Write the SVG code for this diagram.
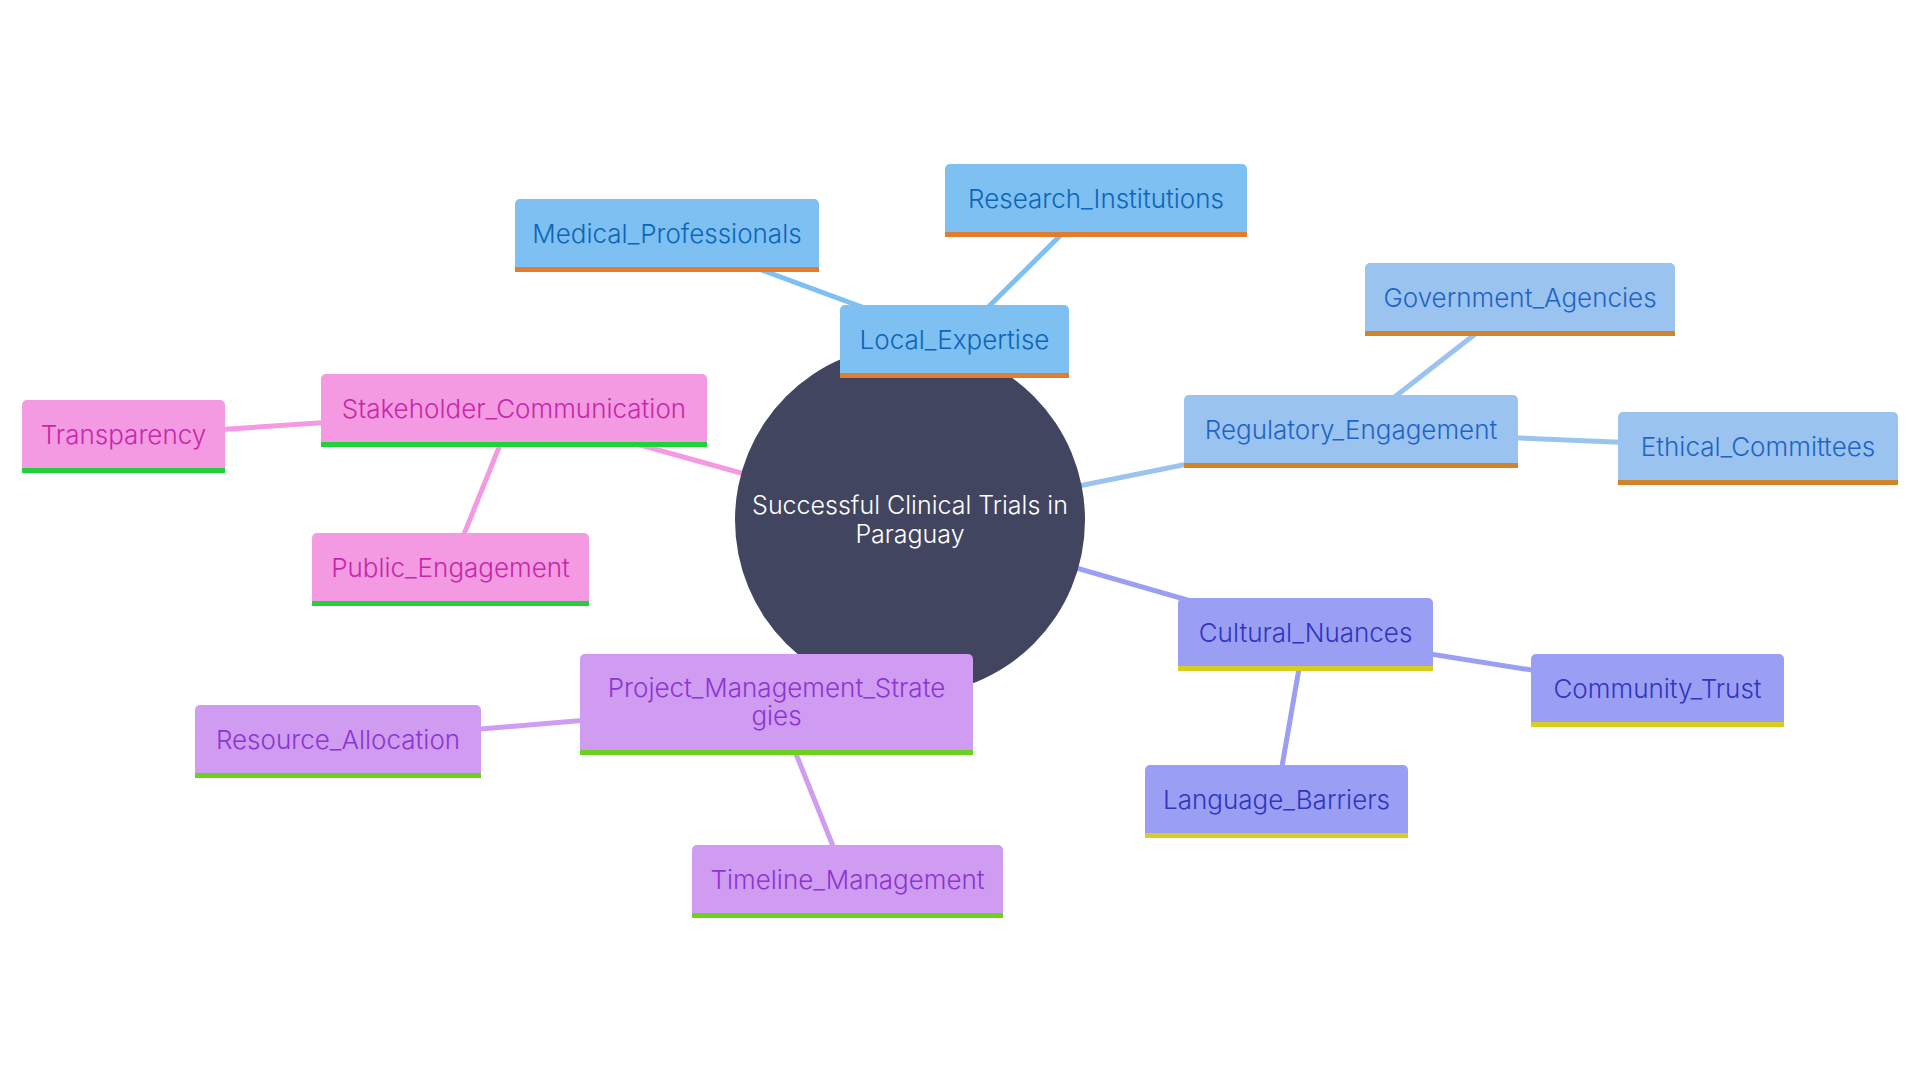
<svg xmlns="http://www.w3.org/2000/svg" width="1920" height="1080" viewBox="0 0 1920 1080">
<style>
.t{font-family:Inter,"Noto Sans","Liberation Sans",sans-serif;font-size:26px;font-weight:300;text-anchor:middle;dominant-baseline:central}
.c{font-family:Inter,"Noto Sans","Liberation Sans",sans-serif;font-size:25px;font-weight:300;text-anchor:middle;dominant-baseline:central;fill:#ffffff}
.edge{fill:none;stroke-width:5;stroke-linecap:round}
.le .b{fill:#7dc0f1}.le .s{fill:#e37c2e}.le text{fill:#0d65b8}
.re .b{fill:#9ac3ef}.re .s{fill:#d0832a}.re text{fill:#1f63c6}
.cu .b{fill:#9b9ff3}.cu .s{fill:#d9cc22}.cu text{fill:#2f35c0}
.sc .b{fill:#f39ae3}.sc .s{fill:#21d13a}.sc text{fill:#c628a8}
.pm .b{fill:#cf9cf2}.pm .s{fill:#6ad21f}.pm text{fill:#8c35d3}
</style>
<rect width="1920" height="1080" fill="#ffffff"/>
<g id="connectors">
<line class="edge" stroke="#7dc0f1" x1="910" y1="520" x2="954" y2="341"/>
<line class="edge" stroke="#7dc0f1" x1="954" y1="341" x2="667" y2="235"/>
<line class="edge" stroke="#7dc0f1" x1="954" y1="341" x2="1096" y2="200"/>
<line class="edge" stroke="#9ac3ef" x1="910" y1="520" x2="1351" y2="431"/>
<line class="edge" stroke="#9ac3ef" x1="1351" y1="431" x2="1520" y2="299"/>
<line class="edge" stroke="#9ac3ef" x1="1351" y1="431" x2="1758" y2="448"/>
<line class="edge" stroke="#9b9ff3" x1="910" y1="520" x2="1305" y2="634"/>
<line class="edge" stroke="#9b9ff3" x1="1305" y1="634" x2="1657" y2="690"/>
<line class="edge" stroke="#9b9ff3" x1="1305" y1="634" x2="1276" y2="801"/>
<line class="edge" stroke="#f39ae3" x1="910" y1="520" x2="514" y2="410"/>
<line class="edge" stroke="#f39ae3" x1="514" y1="410" x2="123" y2="436"/>
<line class="edge" stroke="#f39ae3" x1="514" y1="410" x2="450" y2="569"/>
<line class="edge" stroke="#cf9cf2" x1="910" y1="520" x2="776" y2="704"/>
<line class="edge" stroke="#cf9cf2" x1="776" y1="704" x2="338" y2="741"/>
<line class="edge" stroke="#cf9cf2" x1="776" y1="704" x2="847" y2="881"/>
</g>
<g id="root">
<circle cx="910" cy="520" r="175" fill="#424560"/>
<text class="c" x="910" y="505">Successful Clinical Trials in</text>
<text class="c" x="910" y="534">Paraguay</text>
</g>
<g id="local_expertise" class="le">
<path class="b" d="M840 378 V310 a5 5 0 0 1 5 -5 H1064 a5 5 0 0 1 5 5 V378 Z"/>
<rect class="s" x="840" y="373" width="229" height="5"/>
<text class="t" x="954.5" y="339">Local_Expertise</text>
</g>
<g id="medical_professionals" class="le">
<path class="b" d="M515 272 V204 a5 5 0 0 1 5 -5 H814 a5 5 0 0 1 5 5 V272 Z"/>
<rect class="s" x="515" y="267" width="304" height="5"/>
<text class="t" x="667" y="233">Medical_Professionals</text>
</g>
<g id="research_institutions" class="le">
<path class="b" d="M945 237 V169 a5 5 0 0 1 5 -5 H1242 a5 5 0 0 1 5 5 V237 Z"/>
<rect class="s" x="945" y="232" width="302" height="5"/>
<text class="t" x="1096" y="198">Research_Institutions</text>
</g>
<g id="regulatory_engagement" class="re">
<path class="b" d="M1184 468 V400 a5 5 0 0 1 5 -5 H1513 a5 5 0 0 1 5 5 V468 Z"/>
<rect class="s" x="1184" y="463" width="334" height="5"/>
<text class="t" x="1351" y="429">Regulatory_Engagement</text>
</g>
<g id="government_agencies" class="re">
<path class="b" d="M1365 336 V268 a5 5 0 0 1 5 -5 H1670 a5 5 0 0 1 5 5 V336 Z"/>
<rect class="s" x="1365" y="331" width="310" height="5"/>
<text class="t" x="1520" y="297">Government_Agencies</text>
</g>
<g id="ethical_committees" class="re">
<path class="b" d="M1618 485 V417 a5 5 0 0 1 5 -5 H1893 a5 5 0 0 1 5 5 V485 Z"/>
<rect class="s" x="1618" y="480" width="280" height="5"/>
<text class="t" x="1758" y="446">Ethical_Committees</text>
</g>
<g id="cultural_nuances" class="cu">
<path class="b" d="M1178 671 V603 a5 5 0 0 1 5 -5 H1428 a5 5 0 0 1 5 5 V671 Z"/>
<rect class="s" x="1178" y="666" width="255" height="5"/>
<text class="t" x="1305.5" y="632">Cultural_Nuances</text>
</g>
<g id="community_trust" class="cu">
<path class="b" d="M1531 727 V659 a5 5 0 0 1 5 -5 H1779 a5 5 0 0 1 5 5 V727 Z"/>
<rect class="s" x="1531" y="722" width="253" height="5"/>
<text class="t" x="1657.5" y="688">Community_Trust</text>
</g>
<g id="language_barriers" class="cu">
<path class="b" d="M1145 838 V770 a5 5 0 0 1 5 -5 H1403 a5 5 0 0 1 5 5 V838 Z"/>
<rect class="s" x="1145" y="833" width="263" height="5"/>
<text class="t" x="1276.5" y="799">Language_Barriers</text>
</g>
<g id="stakeholder_communication" class="sc">
<path class="b" d="M321 447 V379 a5 5 0 0 1 5 -5 H702 a5 5 0 0 1 5 5 V447 Z"/>
<rect class="s" x="321" y="442" width="386" height="5"/>
<text class="t" x="514" y="408">Stakeholder_Communication</text>
</g>
<g id="transparency" class="sc">
<path class="b" d="M22 473 V405 a5 5 0 0 1 5 -5 H220 a5 5 0 0 1 5 5 V473 Z"/>
<rect class="s" x="22" y="468" width="203" height="5"/>
<text class="t" x="123.5" y="434">Transparency</text>
</g>
<g id="public_engagement" class="sc">
<path class="b" d="M312 606 V538 a5 5 0 0 1 5 -5 H584 a5 5 0 0 1 5 5 V606 Z"/>
<rect class="s" x="312" y="601" width="277" height="5"/>
<text class="t" x="450.5" y="567">Public_Engagement</text>
</g>
<g id="project_management_strategies" class="pm">
<path class="b" d="M580 755 V659 a5 5 0 0 1 5 -5 H968 a5 5 0 0 1 5 5 V755 Z"/>
<rect class="s" x="580" y="750" width="393" height="5"/>
<text class="t" x="776.5" y="687">Project_Management_Strate</text>
<text class="t" x="776.5" y="715">gies</text>
</g>
<g id="resource_allocation" class="pm">
<path class="b" d="M195 778 V710 a5 5 0 0 1 5 -5 H476 a5 5 0 0 1 5 5 V778 Z"/>
<rect class="s" x="195" y="773" width="286" height="5"/>
<text class="t" x="338" y="739">Resource_Allocation</text>
</g>
<g id="timeline_management" class="pm">
<path class="b" d="M692 918 V850 a5 5 0 0 1 5 -5 H998 a5 5 0 0 1 5 5 V918 Z"/>
<rect class="s" x="692" y="913" width="311" height="5"/>
<text class="t" x="847.5" y="879">Timeline_Management</text>
</g>
</svg>
